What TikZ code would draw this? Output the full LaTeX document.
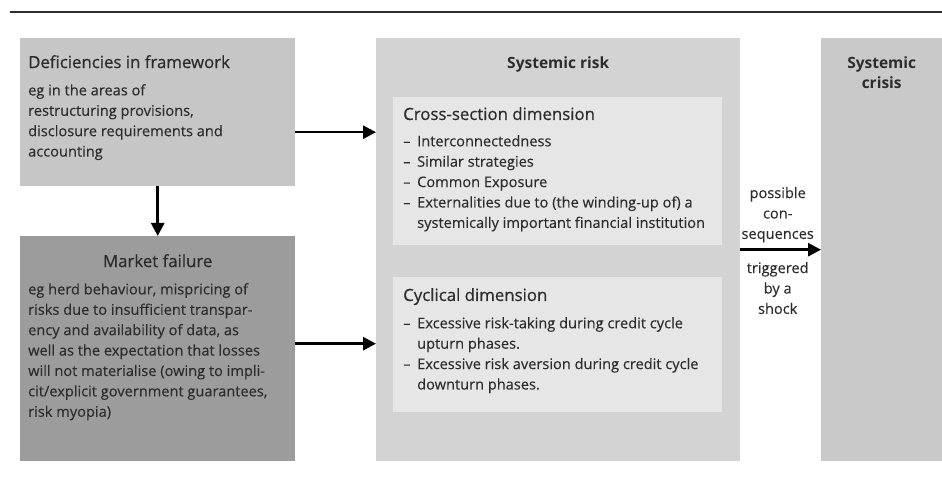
\documentclass[tikz,border=0pt]{standalone}
\usepackage{fontspec}
\setmainfont{Open Sans}
\usetikzlibrary{positioning,arrows.meta}

\definecolor{inkgray}{HTML}{2C2C2C}
\definecolor{defgray}{HTML}{C6C6C6}
\definecolor{mktgray}{HTML}{9C9C9C}
\definecolor{riskgray}{HTML}{D3D3D3}
\definecolor{dimgray}{HTML}{E6E6E6}
\definecolor{crisisgray}{HTML}{C9C9C9}

% dash and hanging indent for the list lines
\newcommand{\listdash}{\makebox[14pt][l]{--}}
\newcommand{\listgap}{\hspace*{14pt}}

\begin{document}
\begin{tikzpicture}[
    x=1pt, y=1pt,
    box/.style={rectangle, inner sep=0pt, anchor=north west},
    title/.style={inner sep=0pt, font=\fontsize{16.8}{20}\selectfont\addfontfeature{FakeBold=0.6}, text=inkgray},
    boldtitle/.style={title, align=center, font=\fontsize{15.5}{20}\selectfont\bfseries},
    body/.style={inner sep=0pt, align=left, font=\fontsize{14.6}{20.4}\selectfont\addfontfeature{FakeBold=0.2}, text=inkgray},
    arrow/.style={line width=2.6pt, black, -{Triangle[length=13pt,width=13pt]}}
]
\useasboundingbox (0,0) rectangle (942,482);

% rule on top
\draw[line width=1.3pt, inkgray] (10,470) -- (942,470);

% Boxes
\node[box, fill=defgray, minimum width=275pt, minimum height=148pt] (defic) at (20,444) {};
\node[box, fill=mktgray, minimum width=275pt, minimum height=225pt] (market) at (20,246) {};
\node[box, fill=riskgray, minimum width=364pt, minimum height=423pt] (risk) at (376,444) {};
\node[box, fill=dimgray, minimum width=329pt, minimum height=148pt] (cross) at (393,385) {};
\node[box, fill=dimgray, minimum width=329pt, minimum height=135pt] (cyclic) at (393,205) {};
\node[box, fill=crisisgray, minimum width=121pt, minimum height=423pt] (crisis) at (821,444) {};

% Deficiencies
\node[title, below right=17pt and 8pt of defic.north west, anchor=north west] (deftitle) {Deficiencies in framework};
\node[body, below right=46pt and 8pt of defic.north west, anchor=north west] (deftext) {eg in the areas of\\restructuring provisions,\\disclosure requirements and\\accounting};

% Market failure
\node[title, below=18pt of market.north, anchor=north] (mkttitle) {Market failure};
\node[body, below right=47pt and 8pt of market.north west, anchor=north west] (mkttext) {eg herd behaviour, mispricing of\\risks due to insufficient transpar-\\ency and availability of data, as\\well as the expectation that losses\\will not materialise (owing to impli-\\cit/explicit government guarantees,\\risk myopia)};

% Systemic risk
\node[boldtitle, below=19pt of risk.north, anchor=north] (risktitle) {Systemic risk};
\node[title, below right=10pt and 10pt of cross.north west, anchor=north west] (crosstitle) {Cross-section dimension};
\node[body, below right=38pt and 10pt of cross.north west, anchor=north west] (crosstext) {\listdash Interconnectedness\\\listdash Similar strategies\\\listdash Common Exposure\\\listdash Externalities due to (the winding-up of) a\\\listgap systemically important financial institution};
\node[title, below right=11pt and 10pt of cyclic.north west, anchor=north west] (cyctitle) {Cyclical dimension};
\node[body, below right=40pt and 10pt of cyclic.north west, anchor=north west] (cyctext) {\listdash Excessive risk-taking during credit cycle\\\listgap upturn phases.\\\listdash Excessive risk aversion during credit cycle\\\listgap downturn phases.};

% Systemic crisis
\node[boldtitle, below=19pt of crisis.north, anchor=north] (crisistitle) {Systemic\\crisis};

% Arrows
\draw[arrow] (defic) -- (market);
\draw[arrow] ([yshift=-20pt]defic.east) -- ([yshift=-20pt]defic.east -| risk.west);
\draw[arrow] ([yshift=5pt]market.east) -- ([yshift=5pt]market.east -| risk.west);
\draw[arrow] (risk) --
    node[body, align=center, above=6pt, xshift=-3pt] (conseq) {possible\\con-\\sequences}
    node[body, align=center, below=11pt, xshift=-3pt] (shock) {triggered\\by a\\shock}
    (crisis);
\end{tikzpicture}
\end{document}
